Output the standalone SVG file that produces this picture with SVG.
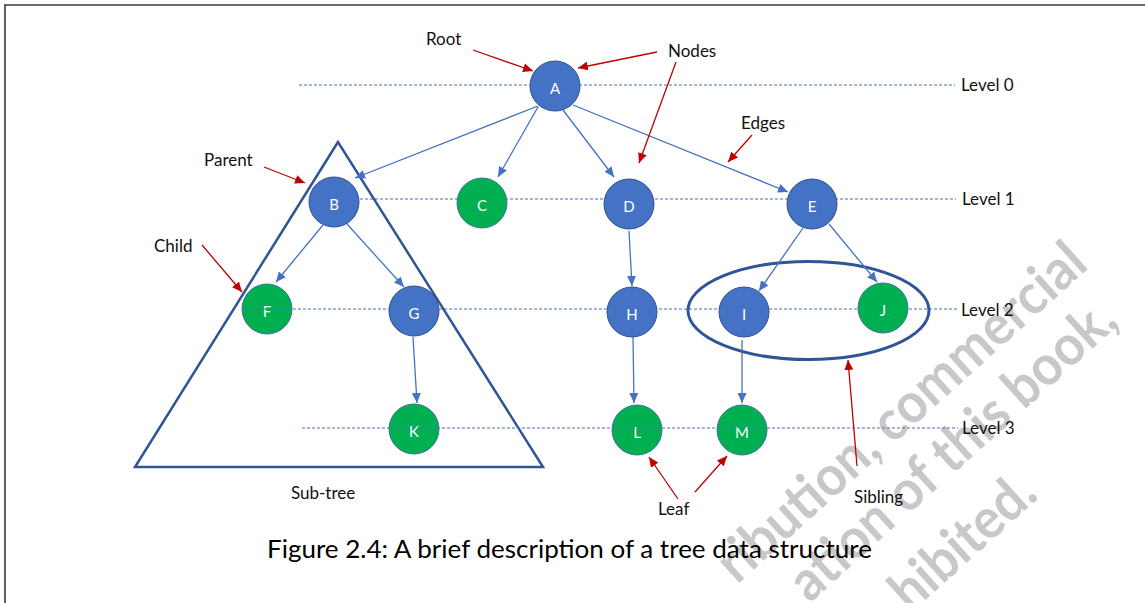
<svg xmlns="http://www.w3.org/2000/svg" width="1145" height="603" viewBox="0 0 1145 603">
<defs>
<marker id="ab" markerUnits="userSpaceOnUse" markerWidth="11" markerHeight="9" refX="10" refY="4.5" orient="auto"><path d="M0,0 L10,4.5 L0,9 z" fill="#4472C4"/></marker>
<marker id="ar" markerUnits="userSpaceOnUse" markerWidth="11" markerHeight="9" refX="10" refY="4.5" orient="auto"><path d="M0,0 L10,4.5 L0,9 z" fill="#C00000"/></marker>
</defs>
<style>
.bg{fill:#fff}
.frame{stroke:#3a3a3a;stroke-width:1.6;fill:none}
.wm{font-family:Lato,"Liberation Sans",sans-serif;font-weight:bold;font-size:56px;fill:#C8C8C8}
.lvl{stroke:#4472C4;stroke-width:1.1;stroke-dasharray:3 2;fill:none}
.edge{stroke:#4472C4;stroke-width:1.3;fill:none;marker-end:url(#ab)}
.red{stroke:#C00000;stroke-width:1.3;fill:none;marker-end:url(#ar)}
.blue circle{fill:#4472C4;stroke:#2F528F;stroke-width:1}
.green circle{fill:#00B050;stroke:#41719C;stroke-width:1}
.nt{font-family:Lato,"Open Sans",sans-serif;font-size:15px;fill:#fff;text-anchor:middle}
.lbl{font-family:Lato,"Open Sans",sans-serif;font-size:17px;fill:#111}
.cap{font-family:Lato,"Open Sans",sans-serif;font-size:25px;fill:#000}
.shape{stroke:#2F5597;fill:none}
</style>
<rect class="bg" x="0" y="0" width="1145" height="603"/>
<g id="watermark">
<text class="wm" transform="translate(1090,267) rotate(-42) scale(0.93,1)" text-anchor="end">ribution, commercial</text>
<text class="wm" transform="translate(1120,324) rotate(-42) scale(0.93,1)" text-anchor="end">ation of this book,</text>
<text class="wm" transform="translate(1040,497) rotate(-42) scale(0.93,1)" text-anchor="end">hibited.</text>
</g>
<g id="frame">
<path class="frame" d="M4,5 H1145 M5,5 V603"/>
</g>
<g id="levels">
<line class="lvl" x1="299" y1="85" x2="955" y2="85"/>
<line class="lvl" x1="340" y1="199" x2="956" y2="199"/>
<line class="lvl" x1="389" y1="309" x2="957" y2="309"/>
</g>
<g id="subtree"><polygon class="shape" stroke-width="2.5" points="338,142 135,467 543,467"/></g>
<g id="sibling-group"><ellipse class="shape" stroke-width="3" cx="808.5" cy="310.5" rx="120.5" ry="49"/></g>
<g id="connectors">
<line class="edge" x1="538" y1="106" x2="355" y2="178"/>
<line class="edge" x1="538" y1="107" x2="498" y2="177"/>
<line class="edge" x1="563" y1="110" x2="614" y2="177"/>
<line class="edge" x1="573" y1="105" x2="788" y2="192"/>
<line class="edge" x1="323" y1="225" x2="276" y2="282"/>
<line class="edge" x1="347" y1="224" x2="404" y2="287"/>
<line class="edge" x1="413" y1="337" x2="417" y2="403"/>
<line class="edge" x1="629" y1="231" x2="632" y2="286"/>
<line class="edge" x1="803" y1="228" x2="759" y2="291"/>
<line class="edge" x1="829" y1="224" x2="877" y2="282"/>
<line class="edge" x1="633" y1="337" x2="634" y2="403"/>
<line class="edge" x1="742" y1="340" x2="742" y2="403"/>
</g>
<g id="node-A" class="blue"><circle cx="555" cy="86" r="25"/><text class="nt" x="555" y="93.5">A</text></g>
<g id="node-B" class="blue"><circle cx="334" cy="202" r="25"/><text class="nt" x="334" y="209.5">B</text></g>
<g id="node-C" class="green"><circle cx="482" cy="203" r="25"/><text class="nt" x="482" y="210.5">C</text></g>
<g id="node-D" class="blue"><circle cx="629" cy="204" r="25"/><text class="nt" x="629" y="211.5">D</text></g>
<g id="node-E" class="blue"><circle cx="812" cy="204" r="25"/><text class="nt" x="812" y="211.5">E</text></g>
<g id="node-F" class="green"><circle cx="267" cy="309" r="25"/><text class="nt" x="267" y="316.5">F</text></g>
<g id="node-G" class="blue"><circle cx="414" cy="311" r="25"/><text class="nt" x="414" y="318.5">G</text></g>
<g id="node-H" class="blue"><circle cx="632" cy="312" r="25"/><text class="nt" x="632" y="319.5">H</text></g>
<g id="node-I" class="blue"><circle cx="744" cy="312" r="25"/><text class="nt" x="744" y="319.5">I</text></g>
<g id="node-J" class="green"><circle cx="883" cy="308" r="25"/><text class="nt" x="883" y="315.5">J</text></g>
<g id="node-K" class="green"><circle cx="414" cy="429" r="25"/><text class="nt" x="414" y="436.5">K</text></g>
<g id="node-L" class="green"><circle cx="637" cy="430" r="25"/><text class="nt" x="637" y="437.5">L</text></g>
<g id="node-M" class="green"><circle cx="742" cy="430" r="25"/><text class="nt" x="742" y="437.5">M</text></g>
<g id="levels-front">
<line class="lvl" x1="243" y1="309" x2="389" y2="309"/>
<line class="lvl" x1="302" y1="428" x2="958" y2="428"/>
</g>
<g id="annotations">
<line class="red" x1="473" y1="50" x2="533" y2="71"/>
<line class="red" x1="657" y1="52" x2="578" y2="68"/>
<line class="red" x1="676" y1="62" x2="639" y2="163"/>
<line class="red" x1="752" y1="135" x2="728" y2="162"/>
<line class="red" x1="264" y1="167" x2="305" y2="183"/>
<line class="red" x1="202" y1="245" x2="242" y2="292"/>
<line class="red" x1="678" y1="499" x2="649" y2="457"/>
<line class="red" x1="695" y1="492" x2="727" y2="456"/>
<line class="red" x1="857" y1="466" x2="848" y2="360"/>
</g>
<g id="labels">
<text class="lbl" x="426" y="45">Root</text>
<text class="lbl" x="668" y="57">Nodes</text>
<text class="lbl" x="741" y="129">Edges</text>
<text class="lbl" x="204" y="166">Parent</text>
<text class="lbl" x="154" y="252">Child</text>
<text class="lbl" x="658" y="515">Leaf</text>
<text class="lbl" x="854" y="503">Sibling</text>
<text class="lbl" x="291" y="499">Sub-tree</text>
<text class="lbl" x="961" y="91">Level 0</text>
<text class="lbl" x="962" y="205">Level 1</text>
<text class="lbl" x="961" y="316">Level 2</text>
<text class="lbl" x="962" y="434">Level 3</text>
<text class="cap" x="267" y="558" textLength="605" lengthAdjust="spacingAndGlyphs">Figure 2.4: A brief description of a tree data structure</text>
</g>
</svg>
